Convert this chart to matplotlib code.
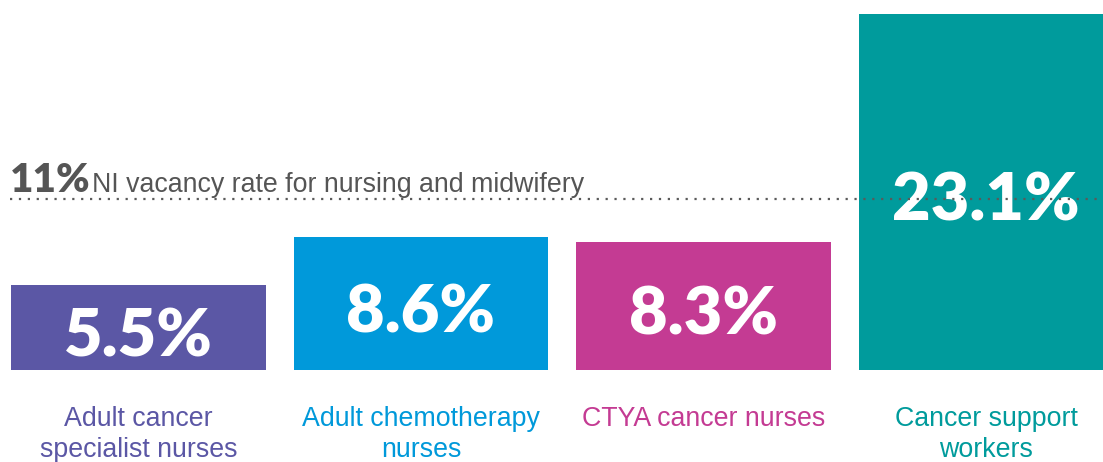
import matplotlib
matplotlib.use("Agg")
import matplotlib.pyplot as plt

# data
categories = ["Adult cancer\nspecialist nurses", "Adult chemotherapy\nnurses",
              "CTYA cancer nurses", "Cancer support\nworkers"]
values = [5.5, 8.6, 8.3, 23.1]
value_labels = ["5.5%", "8.6%", "8.3%", "23.1%"]
colors = ["#5b57a5", "#0099da", "#c43b93", "#009b9c"]
ref_value = 11
ref_label = "11%"
ref_text = "NI vacancy rate for nursing and midwifery"

GREY = "#555555"
NUM_FONT = "Lato"
TXT_FONT = "Liberation Sans"

fig = plt.figure(figsize=(11.03, 4.62), dpi=100)
ax = fig.add_axes([0, 0, 1, 1])
ax.set_xlim(-0.490, 3.414)
ax.set_ylim(-5.97, 24.0)
ax.axis("off")

x = list(range(len(values)))
ax.bar(x, values, width=0.9, color=colors, zorder=1)

for xi, v, lab in zip(x, values, value_labels):
    ax.text(xi, v / 2 - 0.25, lab, ha="center", va="center_baseline", color="white",
            fontsize=48, fontweight="heavy", family=NUM_FONT, zorder=3)

for xi, cat, c in zip(x, categories, colors):
    ax.text(xi, -2.35, cat, ha="center", va="top", color=c, fontsize=19.3,
            family=TXT_FONT, linespacing=1.25)

# reference line for the overall NI rate, drawn over the bars
ax.hlines(ref_value + 0.1, -0.455, 3.5, colors="#5a5a5a", linewidth=1.6,
          linestyles=(0, (1, 3)), zorder=5)
ax.text(-0.455, ref_value + 0.55, ref_label, ha="left", va="baseline", color=GREY,
        fontsize=29, fontweight="heavy", family=NUM_FONT)
ax.text(-0.163, ref_value + 0.55, ref_text, ha="left", va="baseline", color=GREY,
        fontsize=19.3, family=TXT_FONT)

fig.savefig("out.png", dpi=100)
